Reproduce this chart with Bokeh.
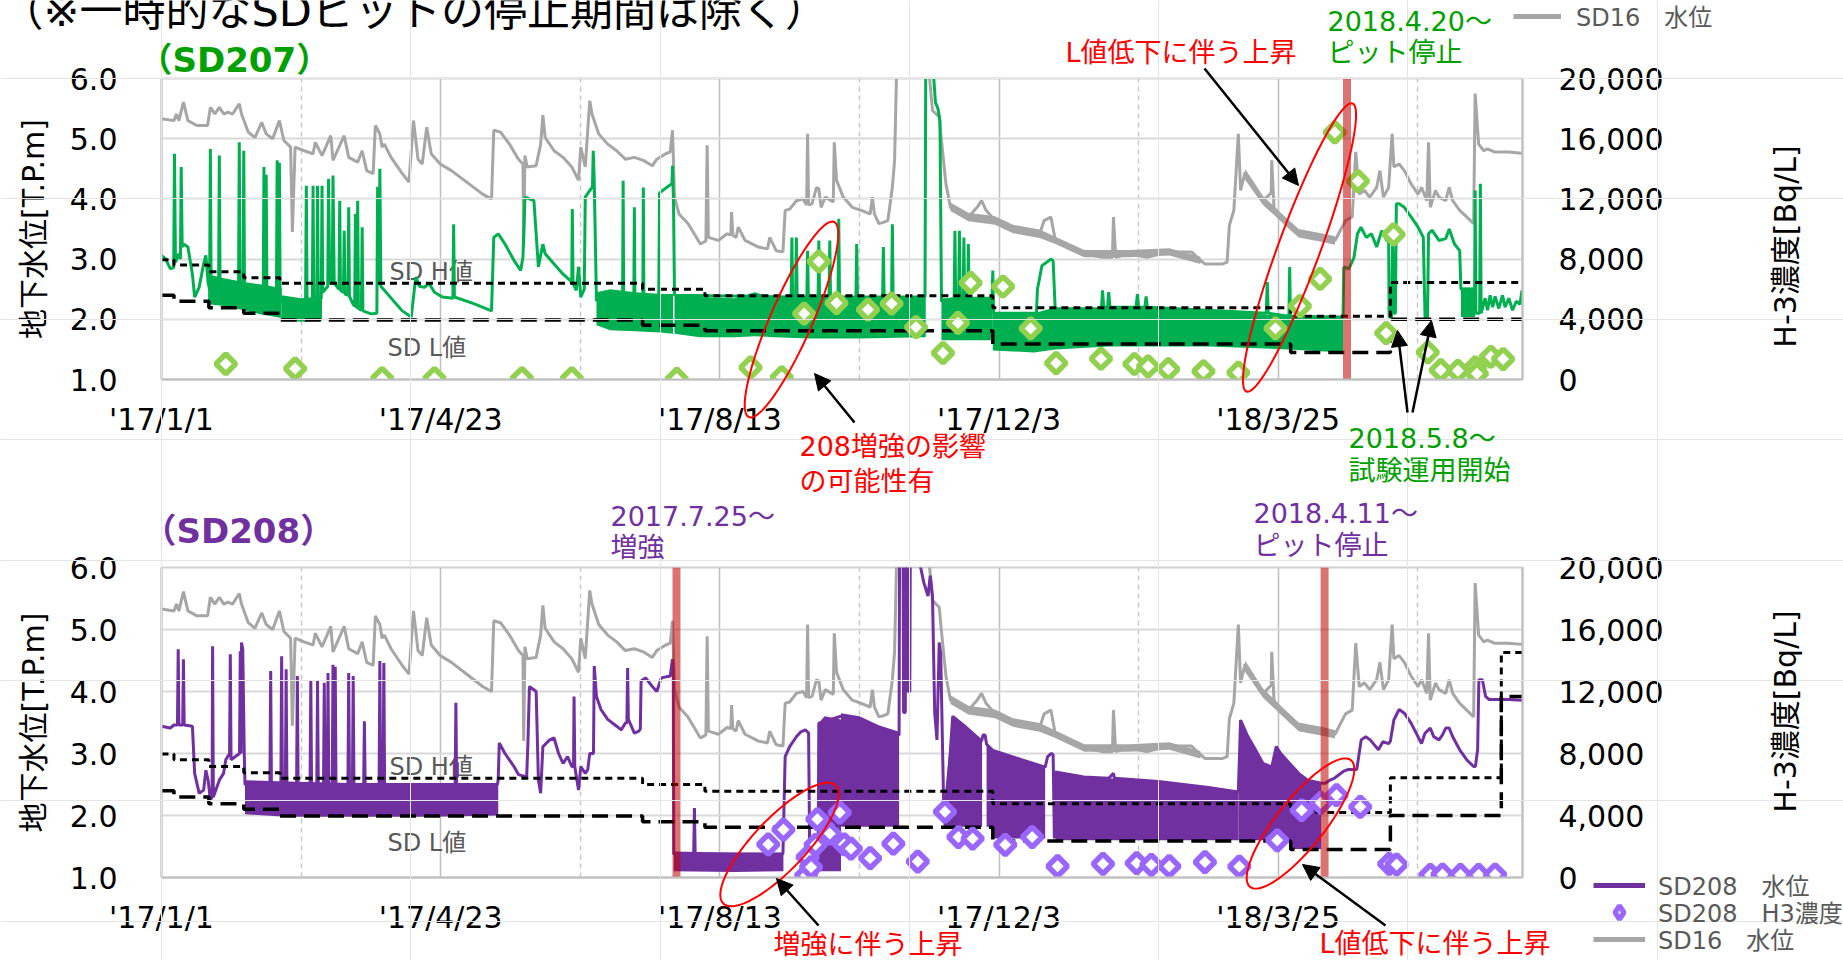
import numpy as np
from bokeh.plotting import figure
from bokeh.layouts import column
from bokeh.models import (Range1d, LinearAxis, FixedTicker, NumeralTickFormatter, Label,
                          Arrow, NormalHead, PolyAnnotation, Legend, LegendItem)
from bokeh.embed import file_html
from bokeh.resources import INLINE

# ------------------------------------------------------------------
# DATA  (x = days since 2017-01-01)
# ------------------------------------------------------------------
X_START, X_END = 0, 546
tick_days = [0, 112, 224, 336, 448]
tick_labels = ["'17/1/1", "'17/4/23", "'17/8/13", "'17/12/3", "'18/3/25"]
mid_days = [56, 168, 280, 392, 504]
level_ticks = [1, 2, 3, 4, 5, 6]
h3_ticks = [0, 4000, 8000, 12000, 16000, 20000]

# SD16 water level [T.P.m]
sd16 = [(0,5.33),(5,5.30),(6,5.41),(7,5.30),(8.8,5.61),(10.6,5.30),(14.2,5.22),(18.5,5.22),(19.6,5.52),
        (21.4,5.41),(23.2,5.52),(25,5.41),(26.7,5.44),(28.5,5.41),(31.2,5.58),(32.1,5.41),(34.8,5.11),
        (37.5,5.02),(40.2,5.27),(42,5.08),(44.6,5.00),(47.3,5.30),(49.1,4.97),(51.8,4.86),(52.5,3.45),
        (53.6,4.86),(57.2,4.80),(60.8,4.75),(61.7,4.94),(64.4,4.72),(67.9,5.05),(68.8,4.64),(73.3,5.05),
        (75.1,4.69),(78.7,4.61),(80.5,4.80),(82.3,4.47),(84.9,4.42),(85.8,5.22),(87.6,5.08),(88.5,4.86),
        (89.4,4.91),(92.1,4.69),(96.6,4.42),(99.3,4.28),(101.1,5.30),(102.9,4.66),(104.6,4.58),(106.4,5.19),
        (108.2,4.75),(111.8,4.58),(116.3,4.47),(123.4,4.25),(128.8,4.08),(132.4,4.00),(133.3,5.14),(136,5.11),
        (139.6,4.91),(143.2,4.66),(145,4.58),(145.3,3.2),(145.8,4.72),(146.7,4.53),(150.3,4.55),(152.1,4.91),
        (153,5.39),(153.9,5.02),(157.5,4.80),(161.1,4.69),(164.6,4.53),(167.3,4.31),(168.2,4.86),(170,4.53),
        (171.8,5.63),(172.7,5.41),(175.4,5.08),(179,4.91),(182.6,4.80),(186.1,4.66),(189.7,4.69),(193.3,4.64),
        (196.9,4.55),(198.7,4.66),(202.3,4.75),(204.1,4.78),(205,5.14),(205.8,4.03),(207.6,3.75),(211.2,3.59),
        (216.2,3.25),(218.4,3.3),(218.9,4.89),(219.4,3.36),(223.4,3.31),(226.9,3.42),(228.4,3.4),(228.7,3.78),
        (229.2,3.4),(230.5,3.36),(231.4,3.53),(234.1,3.31),(239.5,3.20),(243.1,3.17),(244,3.36),(246.6,3.14),
        (249.3,3.12),(250.2,3.81),(252,3.83),(254.7,3.97),(257.4,4.00),(258.8,3.9),(259.2,5.08),(259.6,3.9),
        (261,3.92),(262.8,4.19),(263.7,4.17),(264.6,3.86),(266.3,4.03),(269.5,3.95),(269.9,4.94),(270.8,4.31),
        (273.5,4.03),(277.1,3.86),(280.7,3.81),(284.3,3.75),(285.2,4.03),(286,3.75),(287.8,3.59),(289.6,3.61),
        (291.4,3.64),(293.2,4.19),(294.1,4.64),(295,6.3),(307.5,6.3),(309.3,5.47),(312,5.36),(312.9,4.97),
        (314.7,4.25),(316.5,3.86),(320.1,3.75),(323.7,3.70),(327.2,3.86),(329,3.97),(330.8,3.81),(334.4,3.64),
        (341.6,3.50),(352.3,3.42),(354.1,3.64),(356.8,3.70),(358.6,3.31),(363.1,3.20),(370.2,3.09),(377.4,3.03),
        (381.5,3.03),(381.9,3.70),(382.8,3.03),(388.1,3.09),(395.3,3.03),(404.3,3.12),(413.2,3.12),(416.8,2.98),
        (418.6,2.92),(425.7,2.92),(427.5,2.95),(428.4,3.56),(430.2,3.81),(432,5.08),(432.9,4.14),(434.7,4.44),
        (438.3,4.19),(441.9,3.97),(445.2,4.1),(445.4,4.64),(446.3,3.86),(449,3.70),(452.6,3.53),(456.2,3.42),
        (459.8,3.38),(465.2,3.36),(470.8,3.31),(473.6,3.53),(475,3.64),(477.7,3.70),(479.1,4.78),(480.5,4.08),
        (482.6,4.14),(484.7,4.03),(487.5,4.19),(488.8,4.47),(490.2,4.03),(492.3,4.19),(493.7,5.08),(494.4,4.53),
        (496.5,4.58),(498.6,4.47),(501.3,4.25),(504.1,4.08),(505.5,4.19),(507.6,3.97),(508.3,4.94),(509,3.86),
        (511.1,4.14),(512.5,4.03),(515.2,3.97),(516.6,4.19),(518,3.97),(520.8,3.81),(523.6,3.70),(526.4,3.59),
        (527,5.75),(528.4,4.91),(530.5,4.80),(531.9,4.83),(534.7,4.78),(540.2,4.78),(545.8,4.76)]
# SD16 periods of fast oscillation: (day, low, high)
sd16_bands = [
    [(316.5,3.80,3.94),(323.7,3.63,3.77),(334.4,3.57,3.71),(341.6,3.43,3.57),(352.3,3.35,3.49),
     (358.6,3.25,3.37),(370.2,3.03,3.15),(388.1,3.03,3.15),(404.3,3.06,3.18),(416.8,2.92,3.04)],
    [(434.7,4.32,4.50),(441.9,3.90,4.05),(449,3.63,3.77),(456.2,3.36,3.50),(465.2,3.29,3.43),(470.8,3.24,3.38)],
]

# SD207 water level [T.P.m]
sd207_lv = [(0,3.06),(1.7,3.00),(3.5,2.84),(4.9,2.86),(5.2,4.75),(5.6,2.95),(7.0,3.09),(7.6,3.00),(7.9,4.53),
    (8.3,3.20),(8.8,3.25),(10.6,3.20),(12.4,2.75),(13.3,2.37),(15.1,2.53),(16.9,2.92),(17.8,3.06),(18.7,2.60),
    (19.3,2.50),(19.6,4.83),(19.9,2.50),(22.9,2.50),(23.2,4.72),(23.5,2.50),(30.9,2.45),(31.2,4.94),(31.5,2.45),
    (32.7,2.45),(33.0,4.80),(33.3,2.40),(40.8,2.35),(41.1,4.53),(41.4,2.35),(41.7,2.35),(42.0,4.40),(42.3,2.35),
    (46.1,2.30),(46.4,4.64),(46.7,2.30),(47.0,2.30),(47.3,4.60),(47.6,2.30),(57.8,2.30),(58.1,4.22),(58.4,2.30),
    (60.5,2.30),(60.8,4.22),(61.1,2.30),(62.3,2.30),(62.6,4.22),(62.9,2.30),(64.1,2.35),(64.4,4.22),(64.7,2.45),
    (66.7,2.55),(67.0,4.33),(67.5,2.60),(68.5,2.60),(68.8,4.39),(69.3,2.60),(71.2,2.50),(71.5,3.97),(71.8,2.48),
    (73.0,2.45),(73.3,3.47),(73.6,2.42),(74.8,2.40),(75.1,3.86),(75.4,2.38),(76.9,2.25),(77.5,2.22),(77.8,3.75),
    (78.1,2.20),(78.4,2.20),(78.7,3.97),(79.0,2.18),(80.2,2.15),(80.5,3.53),(80.8,2.14),(84.1,2.09),(86.4,2.10),
    (86.7,4.20),(87.0,2.60),(87.3,2.60),(87.6,4.50),(88.0,2.55),(93.0,2.31),(96.6,2.14),(100.2,2.04),(102.0,2.70),
    (103.5,2.55),(105.5,2.53),(107.3,2.60),(109.5,2.45),(112.7,2.37),(116.9,2.35),(117.2,3.58),(117.5,2.37),
    (125.3,2.26),(132.4,2.14),(133.3,3.36),(135.1,3.42),(137.8,3.25),(141.4,2.98),(144.1,2.81),(145.0,3.03),
    (145.8,4.03),(149.4,3.97),(151.2,2.87),(153.0,3.25),(153.9,3.09),(157.5,2.92),(161.1,2.75),(164.6,2.62),
    (164.8,3.83),(165.1,2.60),(166.4,2.48),(167.3,2.87),(168.2,2.37),(169.6,2.50),(170.0,4.03),(171.8,4.14),
    (172.9,4.20),(173.2,4.80),(173.6,4.30),(174.5,2.30),(175.0,2.40),(185.0,2.40),(185.2,4.30),(185.4,2.40),
    (189.5,2.40),(189.7,3.86),(189.9,2.40),(193.1,2.40),(193.3,4.19),(193.5,2.40),(199.5,2.40),(199.8,4.10),
    (201.0,4.14),(203.0,4.20),(204.8,4.25),(205.0,4.55),(205.4,3.97),(205.8,2.40),(252.6,2.37),(252.9,3.36),
    (253.2,2.37),(254.4,2.37),(254.7,3.36),(255.0,2.37),(258.9,2.37),(259.2,3.14),(259.5,2.37),(263.4,2.37),
    (263.7,3.31),(264.0,2.37),(267.8,2.37),(268.1,3.31),(268.4,2.37),(271.4,2.37),(271.7,3.67),(272.0,2.37),
    (278.6,2.37),(278.9,3.25),(279.2,2.37),(289.3,2.37),(289.6,3.20),(289.9,2.37),(292.9,2.37),(293.2,3.58),
    (293.5,2.37),(306.3,2.37),(306.6,6.30),(309.3,6.30),(310.5,5.60),(311.5,5.50),(312.3,5.30),(312.9,2.30),
    (318.0,2.35),(318.3,3.47),(318.6,2.35),(319.8,2.35),(320.1,3.47),(320.4,2.35),(321.6,2.35),(321.9,3.36),
    (322.2,2.35),(323.4,2.35),(323.7,3.25),(324.0,2.35),(333.2,2.35),(333.5,2.81),(333.8,2.10),(351.0,2.10),
    (351.4,2.50),(353.2,2.89),(356.8,3.00),(357.7,2.97),(358.6,2.10),(377.0,2.10),(377.5,2.48),(378.0,2.20),
    (379.5,2.20),(380.0,2.45),(380.5,2.20),(391.0,2.20),(391.5,2.42),(392.0,2.20),(394.5,2.20),(395.0,2.38),
    (395.5,2.20),(443.2,2.10),(443.6,2.62),(444.0,2.10),(452.3,2.05),(452.6,2.87),(452.9,2.05),(473.5,2.04),
    (474.0,2.04),(474.3,2.87),(476.4,2.84),(478.4,3.03),(479.8,3.42),(481.2,3.53),(483.3,3.36),(485.4,3.42),
    (487.5,3.20),(489.5,3.47),(491.6,3.31),(492.3,3.31),(492.5,2.04),(493.5,2.04),(493.9,3.30),(494.5,2.10),
    (495.0,2.10),(495.4,3.92),(496.5,3.92),(498.6,3.86),(501.3,3.70),(504.1,3.53),(506.2,3.36),(506.9,2.04),
    (507.9,2.04),(508.3,3.42),(509.7,3.48),(512.5,3.31),(515.2,3.34),(516.6,3.50),(518.7,3.25),(520.8,3.14),
    (521.3,2.50),(526.8,2.50),(527.0,4.14),(527.3,2.10),(528.8,2.10),(529.1,4.25),(529.4,2.10),(531.0,2.35),
    (532.0,2.15),(533.0,2.40),(534.0,2.20),(535.0,2.38),(536.5,2.18),(538.0,2.40),(539.0,2.20),(540.5,2.35),
    (542.0,2.15),(543.5,2.30),(545.0,2.25),(545.8,2.48)]
# SD207 pump on/off oscillation envelopes: (day, low, high)
sd207_bands = [
    [(18.7,2.25,2.75),(25,2.22,2.68),(33,2.15,2.62),(40,2.08,2.58),(48.2,2.02,2.52)],
    [(48.2,1.98,2.40),(56,1.96,2.35),(64.4,1.98,2.38)],
    [(174.5,1.90,2.45),(180,1.82,2.50),(190,1.80,2.45),(200,1.78,2.42),(205.2,1.76,2.42)],
    [(205.8,1.76,2.42),(216,1.70,2.37),(230,1.70,2.35),(238,1.72,2.45),(246,1.70,2.35),(260,1.68,2.37),
     (280,1.68,2.37),(306.6,1.70,2.37)],
    [(312.9,1.65,2.35),(333.5,1.65,2.35)],
    [(333.5,1.48,2.10),(350,1.45,2.10),(358.6,1.50,2.20),(380,1.55,2.20),(400,1.55,2.20),(420,1.55,2.15),
     (452,1.50,2.05),(474,1.45,2.04)],
    [(521.3,2.04,2.53),(527,2.04,2.53)],
]
# SD207 H-3 concentration [Bq/L]
sd207_h3 = [(25.8,1040),(53.6,720),(88.5,80),(109.5,80),(144.6,80),(164.6,80),(206.7,40),(236.3,800),
    (248.8,150),(257.8,4380),(263.7,7840),(270.8,5080),(283.4,4640),(292.9,5040),(302.7,3480),(313.5,1760),
    (319.5,3760),(324.6,6420),(337.6,6180),(348.7,3400),(358.9,1090),(376.9,1380),(390.3,1030),(395.8,870),
    (403.9,690),(418.0,550),(432.0,460),(446.9,3400),(456.7,4880),(464.8,6680),(470.7,16420),(480.0,13180),
    (491.3,3080),(494.3,9640),(508.0,1800),(513.2,620),(520.1,580),(527.0,800),(527.7,390),(533.3,1510),
    (538.2,1360)]

# SD208 water level [T.P.m]
sd208_lv = [(0,3.44),(3.5,3.41),(5.0,3.46),(6.4,3.46),(6.7,4.68),(7.0,3.46),(8.5,3.46),(8.8,4.52),(9.1,3.46),
    (12.4,3.44),(13.3,2.68),(15.1,2.36),(16.9,2.41),(17.8,2.73),(18.7,2.57),(19.6,2.25),(20.3,2.30),(20.5,4.73),
    (20.8,2.30),(23.2,2.57),(24.9,2.68),(25.8,2.90),(27.3,3.00),(27.6,4.60),(27.9,2.90),(31.3,3.00),(31.6,4.65),
    (31.9,3.00),(32.1,4.79),(32.6,4.68),(33.2,3.00),(33.5,2.50),(43.5,2.50),(43.8,4.33),(44.1,2.50),(47.9,2.50),
    (48.2,4.57),(48.5,2.50),(49.7,2.50),(50.0,4.36),(50.3,2.50),(54.2,2.50),(54.5,4.25),(54.8,2.50),(59.6,2.50),
    (59.9,4.17),(60.2,2.50),(62.3,2.50),(62.6,4.17),(62.9,2.50),(65.0,2.50),(65.3,4.14),(65.6,2.50),(66.5,2.50),
    (66.8,4.30),(67.1,2.50),(68.5,2.50),(68.8,4.43),(69.1,2.50),(69.4,2.50),(69.7,4.40),(70.0,2.50),(74.8,2.50),
    (75.1,4.30),(75.4,2.50),(76.6,2.50),(76.9,4.25),(77.2,2.50),(81.1,2.50),(81.4,3.52),(81.7,2.50),(87.3,2.50),
    (87.6,4.49),(87.9,2.50),(88.9,2.50),(89.2,4.46),(89.5,2.50),(117.8,2.50),(118.1,3.82),(118.4,2.50),
    (134.8,2.50),(135.1,2.60),(135.5,3.17),(137.8,3.00),(141.4,2.79),(143.2,2.66),(145.8,2.63),(146.5,2.63),
    (147.0,3.17),(147.6,4.08),(150.3,4.00),(151.2,2.57),(152.1,2.36),(153.0,3.11),(155.7,3.22),(157.5,3.25),
    (159.3,3.00),(161.1,2.84),(162.9,2.95),(164.6,2.79),(165.3,2.79),(165.5,3.92),(165.8,2.79),(167.3,2.41),
    (168.2,2.79),(170.0,2.68),(171.0,2.74),(171.8,3.00),(173.3,3.00),(173.6,4.41),(174.5,3.92),(176.3,3.71),
    (179.0,3.55),(182.6,3.44),(184.4,3.38),(186.1,3.49),(186.7,3.50),(187.0,4.38),(187.3,3.55),(189.7,3.33),
    (191.5,3.36),(192.1,3.40),(192.4,4.17),(194.2,4.22),(196.9,4.08),(198.7,4.00),(200.5,4.22),(204.1,4.25),
    (205.0,4.52),(205.3,4.40),(205.5,1.38),(213.5,1.38),(213.8,2.12),(214.1,1.38),(249.3,1.38),(250.2,2.95),
    (252.0,3.11),(254.7,3.27),(256.5,3.35),(258.3,3.38),(259.6,3.33),(260.1,1.11),(263.4,1.11),(263.7,3.49),
    (272.6,3.60),(280.0,3.55),(288.0,3.40),(295.0,3.30),(295.9,3.30),(296.1,6.30),(297.5,6.30),(297.7,3.66),
    (298.4,3.66),(298.6,6.30),(299.3,6.30),(299.5,4.00),(300.2,4.00),(300.4,6.30),(303.0,6.30),(305.8,5.76),
    (307.5,5.54),(308.4,5.87),(309.3,5.54),(310.2,3.65),(311.1,3.22),(312.0,4.79),(312.6,4.60),(313.8,2.14),
    (314.5,1.82),(317.4,3.60),(322.0,3.45),(329.0,3.20),(329.6,3.30),(330.4,3.30),(331.0,3.15),(333.5,3.05),
    (345.0,2.90),(354.5,2.78),(355.5,2.95),(357.0,3.00),(357.7,2.98),(358.2,1.63),(358.6,2.70),(370.0,2.62),
    (380.0,2.60),(381.9,2.68),(382.3,2.60),(400.0,2.55),(420.0,2.45),(432.0,2.38),(432.9,3.54),(435.5,3.30),
    (438.3,3.10),(441.9,2.84),(445.4,2.78),(447.2,3.11),(449.0,3.00),(452.6,2.84),(456.2,2.68),(459.8,2.57),
    (465.2,2.52),(466.9,2.52),(468.7,2.57),(470.5,2.60),(474.1,2.71),(475.9,2.74),(479.5,2.74),(481.3,3.22),
    (483.1,3.27),(484.9,3.22),(488.2,3.06),(490.0,3.19),(492.3,3.16),(493.0,3.20),(494.4,3.54),(496.5,3.71),
    (498.6,3.65),(501.3,3.49),(505.5,3.16),(506.9,3.33),(509.0,3.41),(510.4,3.27),(512.5,3.22),(513.9,3.30),
    (515.2,3.41),(516.6,3.41),(518.0,3.27),(520.8,3.06),(523.6,2.90),(526.4,2.79),(527.1,2.79),(528.0,3.06),
    (528.5,4.19),(529.9,4.19),(531.2,3.92),(532.6,3.87),(540.2,3.87),(546.0,3.86)]
sd208_bands = [
    [(33.5,2.02,2.57),(50,1.98,2.55),(80,1.98,2.52),(110,1.98,2.52),(135.1,2.00,2.52)],
    [(205.5,1.10,1.42),(230,1.09,1.40),(249.5,1.10,1.40)],
    [(263.7,1.10,3.49),(266,1.10,3.60),(272.6,1.10,3.55)],
    [(272.6,1.82,3.65),(280,1.82,3.60),(288,1.82,3.45),(295.9,1.82,3.35)],
    [(313.8,1.82,2.14),(317.4,1.82,3.60),(322,1.82,3.45),(329.2,1.82,3.20)],
    [(331,1.82,3.15),(333.5,1.82,3.05),(333.7,1.63,3.05),(345,1.63,2.90),(354.5,1.63,2.78)],
    [(358.6,1.60,2.70),(370,1.60,2.62),(380,1.60,2.60),(400,1.60,2.55),(420,1.60,2.45),(432,1.60,2.38)],
    [(432,1.60,2.38),(432.9,1.60,3.54),(435.5,1.60,3.30),(438.3,1.60,3.10),(441.9,1.60,2.84),(445.4,1.60,2.78),
     (447.2,1.60,3.11),(449,1.60,3.00),(452.6,1.60,2.84),(453,1.46,2.84),(456.2,1.46,2.68),(459.8,1.46,2.57),
     (465.2,1.46,2.52)],
]
sd208_h3 = [(243.4,2140),(249.5,3090),(258.6,130),(259.2,1320),(260.6,670),(262.4,2110),(263.1,3760),
    (268.1,2830),(272.1,4190),(273.9,2140),(276.6,1860),(284.3,1250),(293.6,2180),(303.4,1030),(314.3,4240),
    (319.7,2610),(325.4,2510),(338.5,2110),(349.3,2610),(359.5,730),(377.7,880),(391.2,930),(397.1,820),
    (404.3,730),(418.6,990),(432.4,710),(447.6,2400),(457.4,4340),(465.1,4820),(471.4,5310),(480.9,4560),
    (492.5,880),(495.5,840),(509.0,170),(513.9,190),(521.1,170),(528.4,170),(535.0,190)]

# SD H / L control values (step start days)
hl_edges = [0, 5, 19, 33, 47.5, 193, 218, 333.5, 453, 493, 537.5, 546]
sd207_H = [2.99, 2.90, 2.79, 2.69, 2.60, 2.50, 2.39, 2.19, 2.05, 2.61, 2.61]
sd207_L = [2.40, 2.30, 2.19, 2.10, 1.99, 1.90, 1.81, 1.59, 1.45, 2.00, 2.00]
sd208_H = [2.99, 2.90, 2.79, 2.69, 2.60, 2.50, 2.39, 2.19, 2.05, 2.61, 4.63]
sd208_L = [2.40, 2.30, 2.19, 2.10, 1.99, 1.90, 1.81, 1.59, 1.45, 2.00, 3.92]

# events (pit stop / reinforcement) days
sd207_events = [474]        # 2018.4.20
sd208_events = [205, 465]   # 2017.7.25, 2018.4.11

# ------------------------------------------------------------------
# STYLE / LAYOUT  (page pixels)
# ------------------------------------------------------------------
FONT = "DejaVu Sans, Noto Sans CJK JP"
W, H_ALL = 1843, 960
TOP_H = 497
BOT_H = H_ALL - TOP_H
FR_L, FR_R = 161, 1522
TOP_T, TOP_B = 78, 379
BOT_T, BOT_B = 567, 877
GREEN_TXT = "#00A000"
PURPLE = "#7030A0"
GRAY_TXT = "#595959"
RED = "#FF0000"


def dx(px):
    return X_START + (px - FR_L) * (X_END - X_START) / (FR_R - FR_L)


def dy_top(py):
    return 1 + (TOP_B - py) * 5.0 / (TOP_B - TOP_T)


def cols(pts):
    return [q[0] for q in pts], [q[1] for q in pts]


def make_panel(height, frame_top, frame_bottom, lv, bands, h3, H, L, line_color, dia_color, events):
    p = figure(width=W, height=height, output_backend="svg", toolbar_location=None,
               x_range=Range1d(X_START, X_END), y_range=Range1d(1, 6),
               min_border_left=FR_L, min_border_right=W - FR_R, min_border_top=frame_top,
               min_border_bottom=height - frame_bottom)
    p.frame_align = False
    p.extra_y_ranges = {"h3": Range1d(0, 20000)}
    p.outline_line_color = "#D0D0D0"
    p.outline_line_width = 2
    p.background_fill_color = "white"
    p.border_fill_color = "white"

    xt = FixedTicker(ticks=tick_days, minor_ticks=mid_days)
    xa = p.xaxis[0]
    xa.ticker = xt
    xa.major_label_overrides = {d: t for d, t in zip(tick_days, tick_labels)}
    ya = p.yaxis[0]
    ya.ticker = FixedTicker(ticks=level_ticks)
    ya.formatter = NumeralTickFormatter(format="0.0")
    ya.axis_label = "地下水位[T.P.m]"
    ra = LinearAxis(y_range_name="h3", ticker=FixedTicker(ticks=h3_ticks),
                    formatter=NumeralTickFormatter(format="0,0"))
    p.add_layout(ra, "right")
    for ax in (xa, ya, ra):
        ax.major_tick_line_color = None
        ax.minor_tick_line_color = None
        ax.axis_line_color = "#BFBFBF"
        ax.axis_line_width = 2
        ax.major_label_text_font = FONT
        ax.major_label_text_font_size = "30px"
        ax.major_label_text_color = "black"
        ax.axis_label_text_font = FONT
        ax.axis_label_text_font_size = "30px"
        ax.axis_label_text_font_style = "normal"
        ax.axis_label_text_color = "black"
    xa.major_label_standoff = 16
    ya.major_label_standoff = 38
    ya.axis_label_standoff = 16
    ra.major_label_standoff = 30

    p.xgrid.ticker = xt
    p.xgrid.grid_line_color = "#BFBFBF"
    p.xgrid.grid_line_width = 1.5
    p.xgrid.minor_grid_line_color = "#C8C8C8"
    p.xgrid.minor_grid_line_width = 1.5
    p.xgrid.minor_grid_line_dash = "5 4"
    p.ygrid.ticker = FixedTicker(ticks=level_ticks)
    p.ygrid.grid_line_color = "#D9D9D9"
    p.ygrid.grid_line_width = 2

    # SD16
    for b in sd16_bands:
        p.varea(x=[q[0] for q in b], y1=[q[1] for q in b], y2=[q[2] for q in b], fill_color="#A6A6A6")
    gx, gy = cols(sd16)
    p.line(gx, gy, line_color="#A6A6A6", line_width=3)
    # pit water level
    for b in bands:
        p.varea(x=[q[0] for q in b], y1=[q[1] for q in b], y2=[q[2] for q in b], fill_color=line_color)
    lx, ly = cols(lv)
    p.line(lx, ly, line_color=line_color, line_width=3)
    # SD H / L values
    p.step(hl_edges, H + [H[-1]], mode="after", line_color="black", line_width=3, line_dash="7 5")
    p.step(hl_edges, L + [L[-1]], mode="after", line_color="black", line_width=3.5, line_dash="16 8")
    # H-3
    hx, hy = cols(h3)
    p.scatter(hx, hy, marker="square", angle=np.pi / 4, size=14, line_color=dia_color,
              line_width=5.5, fill_color="white", y_range_name="h3")
    # event bars
    p.quad(left=events, right=[e + 3.2 for e in events], bottom=1, top=6,
           fill_color="#C00000", fill_alpha=0.55, line_color=None)
    return p


top = make_panel(TOP_H, TOP_T, TOP_B, sd207_lv, sd207_bands, sd207_h3, sd207_H, sd207_L,
                 "#00B050", "#92D050", sd207_events)
bot = make_panel(BOT_H, BOT_T - TOP_H, BOT_B - TOP_H, sd208_lv, sd208_bands, sd208_h3, sd208_H, sd208_L,
                 "#7030A0", "#9966FF", sd208_events)

# in-frame text (drawn beneath the lines)
for p, hy, ly in ((top, 2.79, 1.53), (bot, 2.79, 1.55)):
    p.add_layout(Label(x=dx(389), y=hy, text="SD H値", text_font=FONT, text_font_size="24px",
                       text_color=GRAY_TXT, text_baseline="middle", level="underlay"))
    p.add_layout(Label(x=dx(387), y=ly, text="SD L値", text_font=FONT, text_font_size="24px",
                       text_color=GRAY_TXT, text_baseline="middle", level="underlay"))

# ------------------------------------------------------------------
# transparent overlay for the notes that lie outside the plot frames
# ------------------------------------------------------------------
ov = figure(width=W, height=H_ALL, output_backend="svg", toolbar_location=None,
            x_range=Range1d(dx(0), dx(W)), y_range=Range1d(dy_top(H_ALL), dy_top(0)),
            x_axis_location=None, y_axis_location=None, min_border=0,
            min_border_left=0, min_border_right=0, min_border_top=0, min_border_bottom=0,
            background_fill_color=None, border_fill_color=None, outline_line_color=None,
            styles={"position": "absolute", "top": "0px", "left": "0px", "z-index": "5"})
ov.frame_align = False


def note(text, px, py, color, size, bold=False, align="left", angle=0.0):
    ov.add_layout(Label(x=dx(px), y=dy_top(py), text=text, text_font=FONT, text_font_size=size,
                        text_color=color, text_align=align, text_baseline="middle", angle=angle,
                        text_font_style="bold" if bold else "normal"))


def arrow(x0, y0, x1, y1):
    ov.add_layout(Arrow(end=NormalHead(size=16, fill_color="black", line_color="black"),
                        x_start=dx(x0), y_start=dy_top(y0), x_end=dx(x1), y_end=dy_top(y1),
                        line_color="black", line_width=2.5))


def ellipse(cx, cy, length, minor, ang):
    t = np.linspace(0, 2 * np.pi, 100)
    a, b, th = length / 2, minor / 2, np.radians(ang)
    ex = cx + a * np.cos(th) * np.cos(t) - b * np.sin(th) * np.sin(t)
    ey = cy - (a * np.sin(th) * np.cos(t) + b * np.cos(th) * np.sin(t))
    ov.add_layout(PolyAnnotation(xs=[dx(v) for v in ex], ys=[dy_top(v) for v in ey],
                                 fill_alpha=0, line_color=RED, line_alpha=1.0, line_width=2))


def legend_row(label, renderer, px, cy, glyph_w, standoff):
    ov.add_layout(Legend(items=[LegendItem(label=label, renderers=[renderer])],
                         location=(px, H_ALL - (cy + 17)), glyph_width=glyph_w, glyph_height=34,
                         label_height=34, label_standoff=standoff, padding=0, margin=0, spacing=0,
                         border_line_color=None, background_fill_alpha=0, label_text_font=FONT,
                         label_text_font_size="24px", label_text_color=GRAY_TXT))


# top panel notes
note("（※一時的なSDピットの停止期間は除く）", 0, 10, "black", "43px")
note("（SD207）", 138, 59, GREEN_TXT, "34px", bold=True)
note("L値低下に伴う上昇", 1065, 52, RED, "27px")
note("2018.4.20～", 1327, 21, GREEN_TXT, "27px")
note("ピット停止", 1327, 52, GREEN_TXT, "27px")
note("208増強の影響", 799, 446, RED, "27px")
note("の可能性有", 799, 481, RED, "27px")
note("2018.5.8～", 1348, 438, GREEN_TXT, "27px")
note("試験運用開始", 1348, 470, GREEN_TXT, "27px")
note("H-3濃度[Bq/L]", 1785, 246, "black", "30px", align="center", angle=np.pi / 2)
ellipse(1299, 247, 307, 42, 69.8)
ellipse(791, 319, 213, 42, 66.4)
arrow(1204, 68, 1298, 185)
arrow(854, 422, 814, 373)
arrow(1407, 412, 1397, 330)
arrow(1412, 412, 1431, 320)

# bottom panel notes
note("（SD208）", 142, 530, PURPLE, "34px", bold=True)
note("2017.7.25～", 610, 516, PURPLE, "27px")
note("増強", 610, 547, PURPLE, "27px")
note("2018.4.11～", 1253, 513, PURPLE, "27px")
note("ピット停止", 1253, 545, PURPLE, "27px")
note("増強に伴う上昇", 773, 944, RED, "27px")
note("L値低下に伴う上昇", 1319, 943, RED, "27px")
note("H-3濃度[Bq/L]", 1785, 711, "black", "30px", align="center", angle=np.pi / 2)
ellipse(779, 844, 163, 52, 46.5)
ellipse(1300, 823, 162, 48, 51.5)
arrow(818, 925, 776, 878)
arrow(1385, 925, 1302, 864)

# legends: swatch renderers hold one NaN placeholder (nothing is drawn on the canvas)
nan1 = np.array([np.nan])
lg_gray_top = ov.line(x=nan1, y=nan1, line_color="#A6A6A6", line_width=5)
lg_purple = ov.line(x=nan1, y=nan1, line_color="#7030A0", line_width=5)
lg_dia = ov.scatter(x=nan1, y=nan1, marker="diamond", size=22, line_color="#9966FF",
                    line_width=5, fill_color="#DDDDDD")
lg_gray = ov.line(x=nan1, y=nan1, line_color="#A6A6A6", line_width=5)
legend_row("SD16　水位", lg_gray_top, 1513, 16, 48, 15)
legend_row("SD208　水位", lg_purple, 1593, 885, 52, 13)
legend_row("SD208　H3濃度", lg_dia, 1593, 912, 52, 13)
legend_row("SD16　水位", lg_gray, 1593, 939, 52, 13)

layout = column(top, bot, ov, spacing=0)
open("out.html", "w").write(file_html(layout, INLINE))
